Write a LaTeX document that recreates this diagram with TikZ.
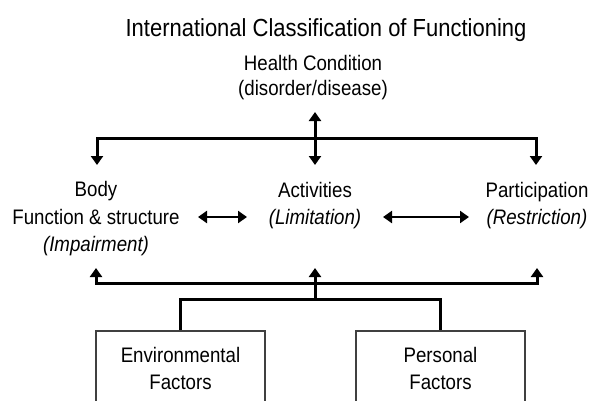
\documentclass[tikz,border=0pt]{standalone}
\usepackage{fontspec}
\setmainfont[FakeStretch=0.89]{Liberation Sans}
\usetikzlibrary{arrows.meta}

\begin{document}
\begin{tikzpicture}[x=1pt,y=1pt]
	\tikzstyle{every node}+=[inner sep=0pt]
	\tikzstyle{wire}=[black, line width=3pt]
	\tikzstyle{arr}=[wire, -{Triangle[width=12pt,length=9pt]}]
	\tikzstyle{duo}=[black, line width=2.7pt, {Triangle[width=12pt,length=9pt]}-{Triangle[width=12pt,length=9pt]}]
	\tikzstyle{txt}=[align=center, font=\fontsize{21}{27.5}\selectfont]
	\tikzstyle{factor}=[draw=black!75, line width=1.3pt, minimum width=169pt, minimum height=74pt, align=center, font=\fontsize{21}{27}\selectfont]
	\clip (0,0) rectangle (589,-400);
	\node (title) at (326,-30) [font=\fontsize{24.7}{28}\selectfont] {International Classification of Functioning};
	\node (health) at (313,-77.5) [align=center, font=\fontsize{21}{25}\selectfont] {Health Condition\\(disorder/disease)};
	\node (body) at (96,-219) [txt] {Body\\Function \& structure\\\textit{(Impairment)}};
	\node (act) at (315,-205.5) [txt] {Activities\\\textit{(Limitation)}};
	\node (part) at (537,-205.5) [txt] {Participation\\\textit{(Restriction)}};
	\node (env) at (180.5,-368) [factor] {Environmental\\Factors};
	\node (pers) at (440.5,-368) [factor] {Personal\\Factors};
	\coordinate (tm) at (315,-138);
	\coordinate (hcup) at (315,-112);
	\coordinate (bdown) at (97,-165);
	\coordinate (adown) at (315,-165);
	\coordinate (pdown) at (536,-165);
	\coordinate (bm) at (315,-283);
	\coordinate (bup) at (96,-268);
	\coordinate (aup) at (315,-268);
	\coordinate (pup) at (537,-268);
	\coordinate (fm) at (315,-299);
	\coordinate (l1) at (198,-217);
	\coordinate (l2) at (247,-217);
	\coordinate (r1) at (383,-217);
	\coordinate (r2) at (469,-217);
	\draw [arr] (tm) -- (hcup);
	\draw [arr] (tm) -| (bdown);
	\draw [arr] (tm) -- (adown);
	\draw [arr] (tm) -| (pdown);
	\draw [duo] (l1) -- (l2);
	\draw [duo] (r1) -- (r2);
	\draw [arr] (bm) -| (bup);
	\draw [arr] (bm) -- (aup);
	\draw [arr] (bm) -| (pup);
	\draw [wire] (fm) -- (bm);
	\draw [wire] (env.north) |- (fm) -| (pers.north);
\end{tikzpicture}
\end{document}
